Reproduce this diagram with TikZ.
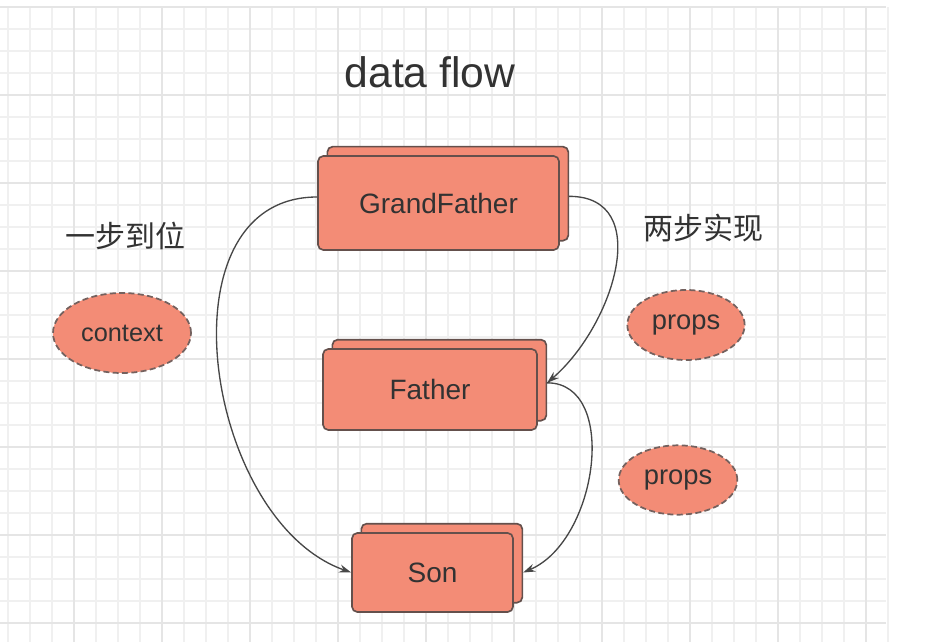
\documentclass[tikz,border=0pt]{standalone}
\usepackage{fontspec}
\setmainfont{Liberation Sans}
\newfontfamily\cjk{Noto Sans CJK SC}
\usetikzlibrary{shapes.geometric,shadows,arrows.meta}
\definecolor{salmon}{RGB}{243,140,118}
\definecolor{boxline}{RGB}{100,80,76}
\definecolor{ink}{RGB}{50,50,50}
\definecolor{gridminor}{RGB}{240,240,240}
\definecolor{gridmajor}{RGB}{229,229,229}

\tikzset{
	comp/.style={draw=boxline, fill=salmon, line width=1.25pt, rounded corners=4pt,
		text=ink, font=\fontsize{21}{25}\selectfont,
		copy shadow={shadow xshift=7pt, shadow yshift=7pt, draw=boxline, fill=salmon, line width=1.25pt}},
	bubble/.style={ellipse, draw=boxline!90, fill=salmon, line width=1.3pt,
		dash pattern=on 4.5pt off 2.5pt, inner sep=0pt, text=ink},
	flow/.style={draw=ink!90, line width=1pt, -{Stealth[length=9pt,width=6pt]}},
}

\begin{document}
\begin{tikzpicture}[x=0.75pt,y=-0.75pt]
	\useasboundingbox (0,0) rectangle (951,642);
	
	% Background grid
	\foreach \k in {0,...,40}
	\draw[gridminor, line width=0.8pt] ({8+22*\k},7) -- ({8+22*\k},642);
	\foreach \k in {0,...,28}
	\draw[gridminor, line width=0.8pt] (0,{7+22*\k}) -- (886,{7+22*\k});
	\foreach \k in {3,7,...,39}
	\draw[gridmajor, line width=1pt] ({8+22*\k},7) -- ({8+22*\k},642);
	\foreach \k in {0,4,...,28}
	\draw[gridmajor, line width=1pt] (0,{7+22*\k}) -- (886,{7+22*\k});
	
	\node[text=ink, font=\fontsize{32}{36}\selectfont] (title) at (430,72) {data flow};
	
	% Components
	\node[comp, minimum width=180.75pt, minimum height=70.5pt] (gf) at (438.5,203) {GrandFather};
	\node[comp, minimum width=160.5pt, minimum height=60.75pt] (father) at (430,389.5) {Father};
	\node[comp, minimum width=120.75pt, minimum height=59.25pt] (son) at (432.5,572.5) {Son};
	
	% Labels on both sides
	\node[text=ink, font=\cjk\fontsize{22.5}{26}\selectfont] (stepOne) at (125,236) {一步到位};
	\node[text=ink, font=\cjk\fontsize{22.5}{26}\selectfont] (stepTwo) at (703,228) {两步实现};
	\node[bubble, minimum width=103.5pt, minimum height=60pt, font=\fontsize{19}{22}\selectfont] (ctx) at (122,333) {context};
	\node[bubble, minimum width=88pt, minimum height=52.5pt, font=\fontsize{20.5}{24}\selectfont] (propsUp) at (686,325) {props};
	\node[bubble, minimum width=89pt, minimum height=52pt, font=\fontsize{20.5}{24}\selectfont] (propsDown) at (678,480) {props};
	
	% Data passing
	\draw[flow] ([yshift=4.5pt]gf.west) .. controls +(-160,0) and +(-147,-52) .. (son.west);
	\draw[flow] ([xshift=7pt,yshift=5pt]gf.east) .. controls +(85,0) and +(67,-58) .. ([xshift=7pt,yshift=5pt]father.east);
	\draw[flow] ([xshift=7pt,yshift=5pt]father.east) .. controls +(72,0) and +(75,-32) .. ([xshift=7pt]son.east);
\end{tikzpicture}
\end{document}
